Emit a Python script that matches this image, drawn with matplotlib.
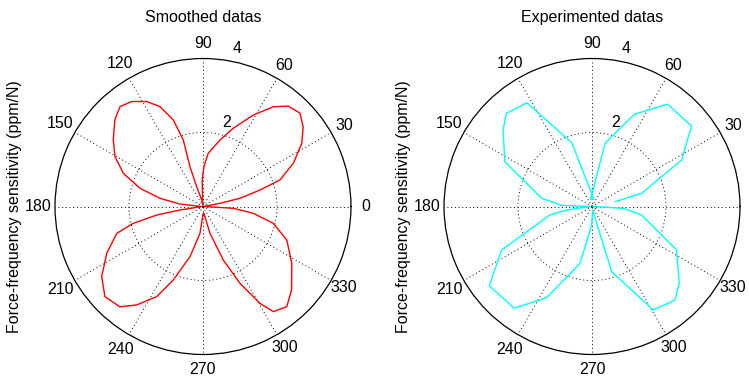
import numpy as np
import matplotlib
matplotlib.use('Agg')
import matplotlib.pyplot as plt

plt.rcParams['font.family'] = ['Liberation Sans', 'DejaVu Sans']
plt.rcParams['font.size'] = 11.5

# smoothed curve: angle (deg) and radius (ppm/N)
smooth_deg = [3, 10.7, 12.5, 16.1, 19, 25.6, 32.6, 38.5, 43.9, 49.7, 54.8, 61.2, 68.8, 75.7, 84.3, 88.6, 91.8, 92.5, 96,
              101, 107.6, 108.1, 106.5, 108.9, 113.3, 118.2, 124.2, 129.7, 135.5, 143.4, 150.5, 157.4, 163.9, 169.2, 173.8, 178,
              185, 188.7, 190.4, 193.6, 197.3, 205.9, 214.7, 222.6, 230.4, 236, 242.8, 248, 255.5, 263.6, 272,
              278, 284.6, 290.8, 295.7, 300.5, 303.8, 309.9, 316.7, 327.4, 338.2, 346.6, 352.3, 356.6, 360]
smooth_r = [0.03, 0.47, 1.02, 1.60, 2.20, 2.71, 3.17, 3.46, 3.64, 3.56, 3.30, 2.82, 2.27, 1.85, 1.45, 1.08, 0.72, 0.30, 0.05,
            0.18, 0.56, 1.13, 1.87, 2.47, 2.94, 3.22, 3.43, 3.51, 3.34, 3.02, 2.73, 2.33, 1.77, 1.18, 0.63, 0.08,
            0.05, 0.63, 1.27, 1.94, 2.44, 2.89, 3.33, 3.60, 3.52, 3.21, 2.74, 2.14, 1.40, 0.73, 0.18,
            0.19, 0.75, 1.55, 2.30, 3.04, 3.42, 3.53, 3.29, 2.85, 2.44, 1.95, 1.37, 0.82, 0.05]

# measured points, same units
exp_deg = [11.8, 14.9, 27.4, 36.9, 38.9, 53.5, 65.4, 78.4, 100, 75,
           107.6, 122.1, 132.6, 139.3, 152.8, 170.7, 178, 183,
           187.9, 191.4, 205.7, 217.7, 232.6, 243.6, 258.1, 269, 280,
           286.8, 300.6, 311.6, 318.7, 332.8, 350.3, 356.7, 360]
exp_r = [0.64, 1.39, 2.73, 3.29, 3.46, 3.44, 2.74, 1.74, 0.2, 0.2,
         1.81, 3.31, 3.42, 3.17, 2.65, 1.38, 0.80, 0.05,
         0.69, 1.16, 2.71, 3.51, 3.46, 2.75, 1.57, 0.5, 0.1,
         1.84, 3.25, 3.38, 3.14, 2.57, 1.36, 0.85, 0.03]

theta_ticks = list(range(0, 360, 30))
r_ticks = [2, 4]
r_max = 4
ylab = 'Force-frequency sensitivity (ppm/N)'

fig = plt.figure(figsize=(7.49, 3.78), dpi=100)


def panel(left, th, r, color, title):
    ax = fig.add_axes([left, 0.0622, 0.3952, 0.783], projection='polar')
    ax.plot(np.deg2rad(th), r, color=color, lw=1.0)
    ax.set_thetagrids(theta_ticks, labels=[''] * len(theta_ticks))
    ax.set_rgrids([2], labels=[''])
    ax.set_ylim(0, r_max)
    ax.grid(True, color='k', linestyle=(0, (1, 2.8)), linewidth=0.7)
    ax.spines['polar'].set_linewidth(0.9)
    ax.tick_params(length=0)
    # matlab style labels, left side sits a bit further out
    for a in theta_ticks:
        rt = 1.1 * r_max
        if 90 < a < 270:
            rt += 0.06
        ax.text(np.deg2rad(a), rt, str(a), ha='center', va='center')
    for t in r_ticks:
        ax.text(np.deg2rad(82), t + 0.1, '  ' + str(t), ha='left', va='bottom')
    ax.text(0.5, 1.1385, title, transform=ax.transAxes, ha='center', va='center')
    ax.text(-0.137, 0.5, ylab, transform=ax.transAxes, rotation=90, ha='center', va='center')
    return ax


panel(0.0734, smooth_deg, smooth_r, '#ff0000', 'Smoothed datas')
panel(0.5928, exp_deg, exp_r, '#00ffff', 'Experimented datas')

fig.savefig('out.png', dpi=100)
